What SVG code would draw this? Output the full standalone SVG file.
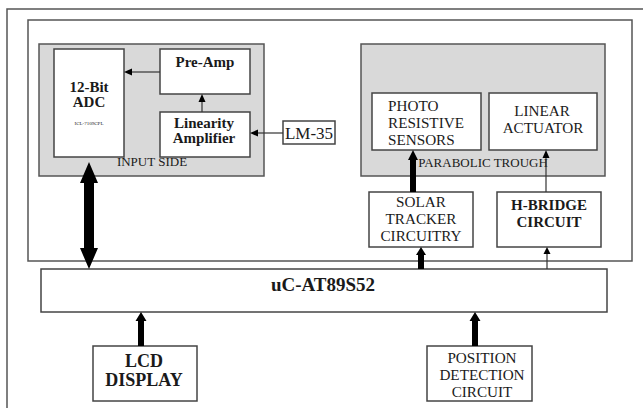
<svg xmlns="http://www.w3.org/2000/svg" width="643" height="408" viewBox="0 0 643 408">
<style>
.frame{fill:none;stroke:#555;stroke-width:1.5}
.grp{fill:#d9d9d9;stroke:#555;stroke-width:1.5}
.box{fill:#fff;stroke:#444;stroke-width:1.5}
text{font-family:"Liberation Serif","Times New Roman",serif;fill:#1a1a1a}
.b{font-weight:bold}
.m{font-size:15.2px}
.thin{stroke:#333;stroke-width:1.2;fill:none}
</style>
<rect x="0" y="0" width="643" height="408" fill="#fff"/>
<rect class="frame" x="7" y="9" width="650" height="410"/>
<rect class="frame" x="28" y="20" width="604" height="241"/>

<g id="input-side">
<rect class="grp" x="39" y="44" width="225" height="132"/>
<text x="152" y="166" font-size="13" text-anchor="middle">INPUT SIDE</text>
</g>
<g id="parabolic-trough">
<rect class="grp" x="361" y="44" width="244" height="132"/>
<text x="483" y="167" font-size="13" text-anchor="middle">PARABOLIC TROUGH</text>
</g>

<g id="adc">
<rect class="box" x="54" y="49" width="70" height="108"/>
<text class="b" x="89" y="92" font-size="15" text-anchor="middle">12-Bit</text>
<text class="b" x="89" y="107" font-size="15" text-anchor="middle">ADC</text>
<text x="89" y="125" font-size="5" text-anchor="middle">ICL-7109CPL</text>
</g>
<g id="pre-amp">
<rect class="box" x="160" y="49" width="90" height="45"/>
<text class="b" x="205" y="67" font-size="15" text-anchor="middle">Pre-Amp</text>
</g>
<g id="linearity-amplifier">
<rect class="box" x="160" y="112" width="90" height="45"/>
<text class="b" x="204" y="128" font-size="15" text-anchor="middle">Linearity</text>
<text class="b" x="204" y="143" font-size="15" text-anchor="middle">Amplifier</text>
</g>
<g id="lm35">
<rect class="box" x="283" y="121" width="52" height="23"/>
<text x="309" y="139" font-size="17" text-anchor="middle">LM-35</text>
</g>
<g id="photo-resistive-sensors">
<rect class="box" x="372" y="93" width="109" height="57"/>
<text class="m" x="388" y="111">PHOTO</text>
<text class="m" x="388" y="128">RESISTIVE</text>
<text class="m" x="388" y="145">SENSORS</text>
</g>
<g id="linear-actuator">
<rect class="box" x="489" y="93" width="108" height="57"/>
<text class="m" x="542" y="116" text-anchor="middle">LINEAR</text>
<text class="m" x="543" y="133" text-anchor="middle">ACTUATOR</text>
</g>
<g id="solar-tracker">
<rect class="box" x="369" y="192" width="104" height="55"/>
<text class="m" x="421" y="207" text-anchor="middle">SOLAR</text>
<text class="m" x="421" y="224" text-anchor="middle">TRACKER</text>
<text class="m" x="421" y="241" text-anchor="middle">CIRCUITRY</text>
</g>
<g id="h-bridge">
<rect class="box" x="497" y="192" width="104" height="55"/>
<text class="b" x="549" y="210" font-size="15" text-anchor="middle">H-BRIDGE</text>
<text class="b" x="549" y="227" font-size="15" text-anchor="middle">CIRCUIT</text>
</g>
<g id="uc">
<rect class="box" x="41" y="269" width="566" height="43"/>
<text class="b" x="323" y="291" font-size="19" text-anchor="middle">uC-AT89S52</text>
</g>
<g id="lcd-display">
<rect class="box" x="93" y="346" width="104" height="55"/>
<text class="b" x="144" y="367" font-size="18" text-anchor="middle">LCD</text>
<text class="b" x="144" y="386" font-size="18" text-anchor="middle">DISPLAY</text>
</g>
<g id="position-detection">
<rect class="box" x="427" y="346" width="105" height="55"/>
<text class="m" x="482" y="363" text-anchor="middle">POSITION</text>
<text class="m" x="482" y="380" text-anchor="middle">DETECTION</text>
<text class="m" x="482" y="397" text-anchor="middle">CIRCUIT</text>
</g>

<g id="connectors">
<line class="thin" x1="160" y1="72" x2="131" y2="72"/>
<path d="M124,72 L132,68.5 L132,75.5 Z" fill="#000"/>
<line class="thin" x1="202" y1="112" x2="202" y2="101"/>
<path d="M202,94 L198.5,102 L205.5,102 Z" fill="#000"/>
<line class="thin" x1="283" y1="133" x2="257" y2="133"/>
<path d="M250,133 L258,129.5 L258,136.5 Z" fill="#000"/>
<path d="M89,162 L98,183 L94,183 L94,248 L98,248 L89,269 L80,248 L84,248 L84,183 L80,183 Z" fill="#000"/>
<path d="M413,150 L418,160 L416,160 L416,192 L410,192 L410,160 L408,160 Z" fill="#000"/>
<line class="thin" x1="546" y1="192" x2="546" y2="157"/>
<path d="M546,150 L542.5,158 L549.5,158 Z" fill="#000"/>
<path d="M421,247 L426,255 L424,255 L424,269 L418,269 L418,255 L416,255 Z" fill="#000"/>
<line class="thin" x1="547" y1="269" x2="547" y2="253"/>
<path d="M547,247 L543.5,254 L550.5,254 Z" fill="#000"/>
<path d="M141,312 L146.5,321 L144,321 L144,346 L138,346 L138,321 L135.5,321 Z" fill="#000"/>
<path d="M475,312 L480.5,321 L478,321 L478,346 L472,346 L472,321 L469.5,321 Z" fill="#000"/>
</g>
</svg>
